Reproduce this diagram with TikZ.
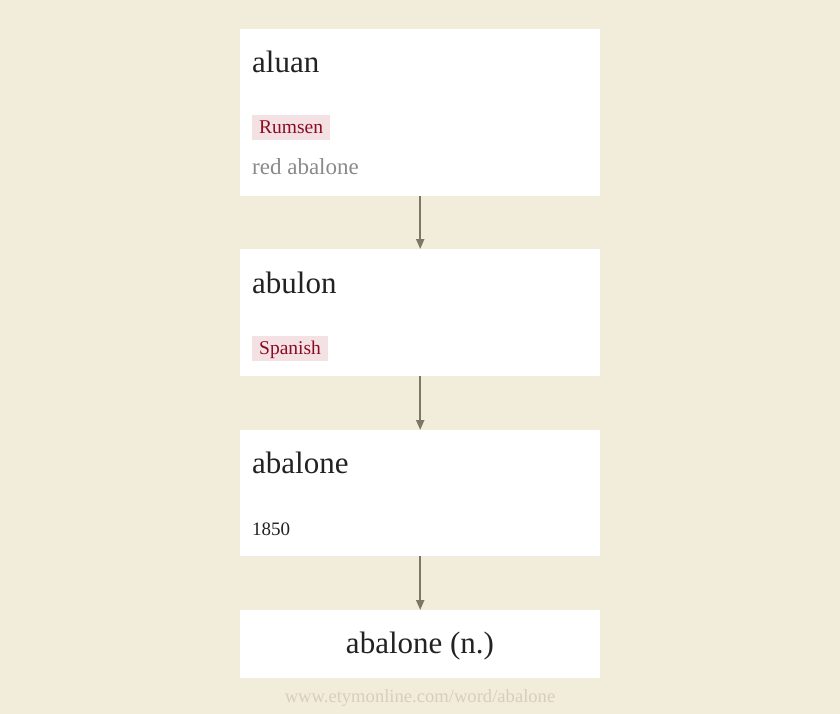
\documentclass[tikz,border=0pt]{standalone}
\usepackage{fontspec}
\setmainfont{Liberation Serif}
\usetikzlibrary{arrows.meta}
\definecolor{bgcream}{HTML}{F2ECDB}
\definecolor{tagpink}{HTML}{F3E1E4}
\definecolor{tagred}{HTML}{8A0C22}
\definecolor{glossgray}{HTML}{8A8A8A}
\definecolor{arrowgray}{HTML}{7D7766}
\definecolor{foottan}{HTML}{D7CFBD}
\definecolor{inkdark}{HTML}{222222}
\tikzstyle{card}=[fill=white,minimum width=360pt,inner sep=0pt,anchor=north west]
\tikzstyle{word}=[anchor=base west,inner sep=0pt,text=inkdark,font=\fontsize{31}{31}\selectfont]
\tikzstyle{lang}=[anchor=west,fill=tagpink,text=tagred,inner xsep=7pt,inner ysep=3.5pt,text height=15pt,text depth=3pt,font=\fontsize{19.5}{20}\selectfont]
\tikzstyle{gloss}=[anchor=base west,inner sep=0pt,text=glossgray,font=\fontsize{23}{23}\selectfont]
\tikzstyle{link}=[draw=arrowgray,line width=2pt,-{Triangle[width=8pt,length=10pt]},arrowgray]

\begin{document}
\begin{tikzpicture}[x=1pt,y=-1pt]
\fill[bgcream] (0,0) rectangle (840,714);
\node[card,minimum height=167pt] at (240, 29) (aluan) {};
\node[card,minimum height=127pt] at (240, 249) (abulon) {};
\node[card,minimum height=126pt] at (240, 430) (abalone) {};
\node[card,minimum height=68pt] at (240, 610) (abalonen) {};
\node[word] at (252, 73) (aluanw) {aluan};
\node[lang] at (252, 127.5) (rumsen) {Rumsen};
\node[gloss] at (252, 175) (redab) {red abalone};
\node[word] at (252, 293) (abulonw) {abulon};
\node[lang] at (252, 348.5) (spanish) {Spanish};
\node[word] at (252, 473) (abalonew) {abalone};
\node[gloss,text=inkdark,font=\fontsize{19}{19}\selectfont] at (252, 535) (year) {1850};
\node[word,anchor=base] at (420, 653) (abalonenw) {abalone (n.)};
\node[anchor=base,inner sep=0pt,text=foottan,font=\fontsize{18.6}{19}\selectfont] at (420, 702) (url) {www.etymonline.com/word/abalone};
\draw[link] (aluan) -- (abulon);
\draw[link] (abulon) -- (abalone);
\draw[link] (abalone) -- (abalonen);
\end{tikzpicture}
\end{document}
